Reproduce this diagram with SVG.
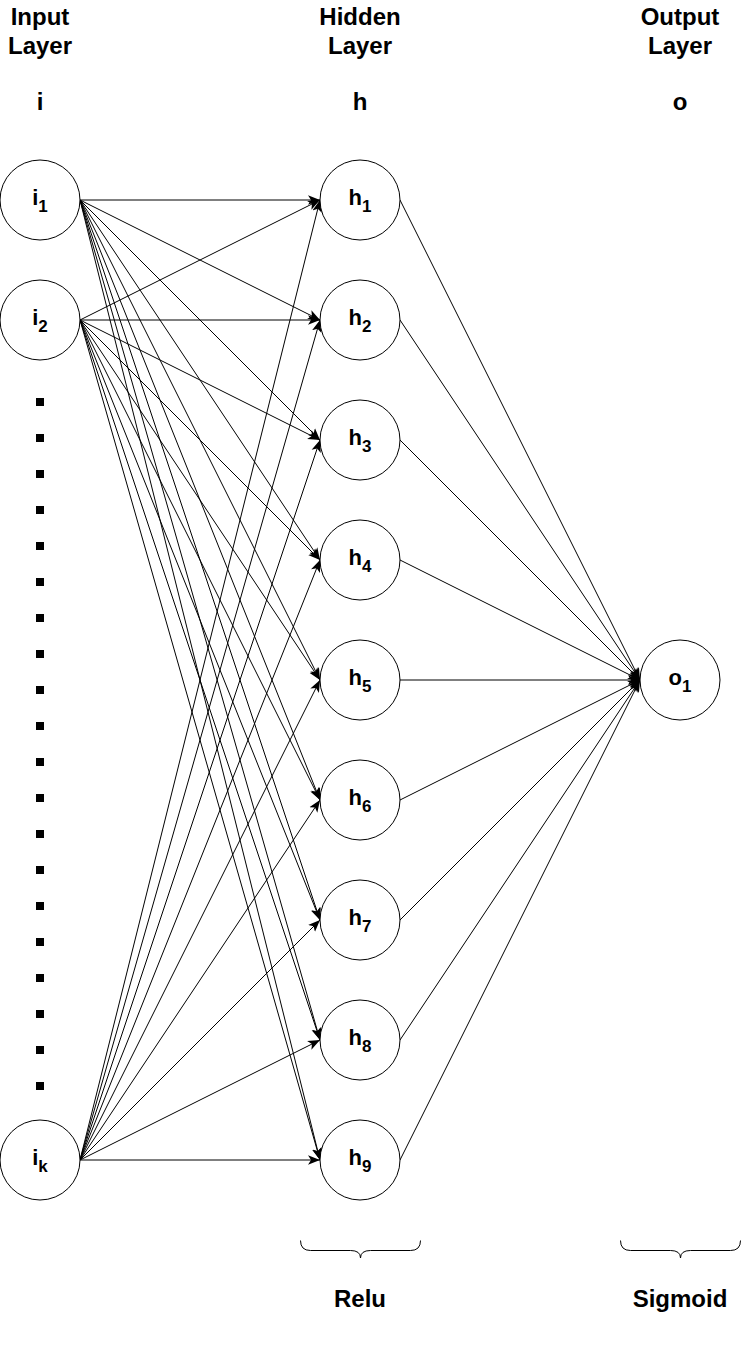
<svg xmlns="http://www.w3.org/2000/svg" width="741" height="1360" viewBox="0 0 741 1360">
<style>
.node{fill:#fff;stroke:#000;stroke-width:1}
.lbl{font-family:"Liberation Sans",Arial,sans-serif;font-weight:bold;font-size:22px;fill:#000;text-anchor:middle}
.sub{font-size:17px}
.hdr{font-family:"Liberation Sans",Arial,sans-serif;font-weight:bold;font-size:24px;fill:#000;text-anchor:middle}
.edge{stroke:#000;stroke-width:1;fill:none;marker-end:url(#arr)}
.dot{fill:#000}
.brace{stroke:#000;stroke-width:1;fill:none}
</style>
<defs>
<marker id="arr" markerUnits="userSpaceOnUse" markerWidth="12" markerHeight="12" viewBox="0 0 10 10" refX="10" refY="5" orient="auto">
<path d="M0,1 L10,5 L0,9 L2.5,5 Z" fill="#000"/>
</marker>
</defs>
<rect width="741" height="1360" fill="#fff"/>
<g id="headers">
<text class="hdr" x="40" y="25">Input</text>
<text class="hdr" x="40" y="54">Layer</text>
<text class="hdr" x="40" y="110">i</text>
<text class="hdr" x="360" y="25">Hidden</text>
<text class="hdr" x="360" y="54">Layer</text>
<text class="hdr" x="360" y="110">h</text>
<text class="hdr" x="680" y="25">Output</text>
<text class="hdr" x="680" y="54">Layer</text>
<text class="hdr" x="680" y="110">o</text>
</g>
<g id="connectors">
<path class="edge" d="M80,200L320,200"/><path class="edge" d="M80,200L320,320"/><path class="edge" d="M80,200L320,440"/><path class="edge" d="M80,200L320,560"/><path class="edge" d="M80,200L320,680"/><path class="edge" d="M80,200L320,800"/><path class="edge" d="M80,200L320,920"/><path class="edge" d="M80,200L320,1040"/><path class="edge" d="M80,200L320,1160"/>
<path class="edge" d="M80,320L320,200"/><path class="edge" d="M80,320L320,320"/><path class="edge" d="M80,320L320,440"/><path class="edge" d="M80,320L320,560"/><path class="edge" d="M80,320L320,680"/><path class="edge" d="M80,320L320,800"/><path class="edge" d="M80,320L320,920"/><path class="edge" d="M80,320L320,1040"/><path class="edge" d="M80,320L320,1160"/>
<path class="edge" d="M80,1160L320,200"/><path class="edge" d="M80,1160L320,320"/><path class="edge" d="M80,1160L320,440"/><path class="edge" d="M80,1160L320,560"/><path class="edge" d="M80,1160L320,680"/><path class="edge" d="M80,1160L320,800"/><path class="edge" d="M80,1160L320,920"/><path class="edge" d="M80,1160L320,1040"/><path class="edge" d="M80,1160L320,1160"/>
<path class="edge" d="M400,200L640,680"/><path class="edge" d="M400,320L640,680"/><path class="edge" d="M400,440L640,680"/><path class="edge" d="M400,560L640,680"/><path class="edge" d="M400,680L640,680"/><path class="edge" d="M400,800L640,680"/><path class="edge" d="M400,920L640,680"/><path class="edge" d="M400,1040L640,680"/><path class="edge" d="M400,1160L640,680"/>
</g>
<g id="i1"><circle class="node" cx="40" cy="200" r="40"/><text class="lbl" x="40" y="205">i<tspan class="sub" dy="7">1</tspan></text></g>
<g id="i2"><circle class="node" cx="40" cy="320" r="40"/><text class="lbl" x="40" y="325">i<tspan class="sub" dy="7">2</tspan></text></g>
<g id="ik"><circle class="node" cx="40" cy="1160" r="40"/><text class="lbl" x="40" y="1165">i<tspan class="sub" dy="7">k</tspan></text></g>
<g id="ellipsis">
<rect class="dot" x="36" y="398" width="8" height="8"/><rect class="dot" x="36" y="434" width="8" height="8"/><rect class="dot" x="36" y="470" width="8" height="8"/><rect class="dot" x="36" y="506" width="8" height="8"/><rect class="dot" x="36" y="542" width="8" height="8"/><rect class="dot" x="36" y="578" width="8" height="8"/><rect class="dot" x="36" y="614" width="8" height="8"/><rect class="dot" x="36" y="650" width="8" height="8"/><rect class="dot" x="36" y="686" width="8" height="8"/><rect class="dot" x="36" y="722" width="8" height="8"/><rect class="dot" x="36" y="758" width="8" height="8"/><rect class="dot" x="36" y="794" width="8" height="8"/><rect class="dot" x="36" y="830" width="8" height="8"/><rect class="dot" x="36" y="866" width="8" height="8"/><rect class="dot" x="36" y="902" width="8" height="8"/><rect class="dot" x="36" y="938" width="8" height="8"/><rect class="dot" x="36" y="974" width="8" height="8"/><rect class="dot" x="36" y="1010" width="8" height="8"/><rect class="dot" x="36" y="1046" width="8" height="8"/><rect class="dot" x="36" y="1082" width="8" height="8"/>
</g>
<g id="h1"><circle class="node" cx="360" cy="200" r="40"/><text class="lbl" x="360" y="205">h<tspan class="sub" dy="7">1</tspan></text></g>
<g id="h2"><circle class="node" cx="360" cy="320" r="40"/><text class="lbl" x="360" y="325">h<tspan class="sub" dy="7">2</tspan></text></g>
<g id="h3"><circle class="node" cx="360" cy="440" r="40"/><text class="lbl" x="360" y="445">h<tspan class="sub" dy="7">3</tspan></text></g>
<g id="h4"><circle class="node" cx="360" cy="560" r="40"/><text class="lbl" x="360" y="565">h<tspan class="sub" dy="7">4</tspan></text></g>
<g id="h5"><circle class="node" cx="360" cy="680" r="40"/><text class="lbl" x="360" y="685">h<tspan class="sub" dy="7">5</tspan></text></g>
<g id="h6"><circle class="node" cx="360" cy="800" r="40"/><text class="lbl" x="360" y="805">h<tspan class="sub" dy="7">6</tspan></text></g>
<g id="h7"><circle class="node" cx="360" cy="920" r="40"/><text class="lbl" x="360" y="925">h<tspan class="sub" dy="7">7</tspan></text></g>
<g id="h8"><circle class="node" cx="360" cy="1040" r="40"/><text class="lbl" x="360" y="1045">h<tspan class="sub" dy="7">8</tspan></text></g>
<g id="h9"><circle class="node" cx="360" cy="1160" r="40"/><text class="lbl" x="360" y="1165">h<tspan class="sub" dy="7">9</tspan></text></g>
<g id="o1"><circle class="node" cx="680" cy="680" r="40"/><text class="lbl" x="680" y="685">o<tspan class="sub" dy="7">1</tspan></text></g>
<g id="relu-brace">
<path class="brace" d="M300.5,1240.5 Q300.5,1250.5 310.5,1250.5 L350.5,1250.5 Q360.5,1250.5 360.5,1258 Q360.5,1250.5 370.5,1250.5 L410.5,1250.5 Q420.5,1250.5 420.5,1240.5"/>
<text class="hdr" x="360" y="1307">Relu</text>
</g>
<g id="sigmoid-brace">
<path class="brace" d="M620.5,1240.5 Q620.5,1250.5 630.5,1250.5 L670.5,1250.5 Q680.5,1250.5 680.5,1258 Q680.5,1250.5 690.5,1250.5 L730.5,1250.5 Q740.5,1250.5 740.5,1240.5"/>
<text class="hdr" x="680" y="1307">Sigmoid</text>
</g>
</svg>
